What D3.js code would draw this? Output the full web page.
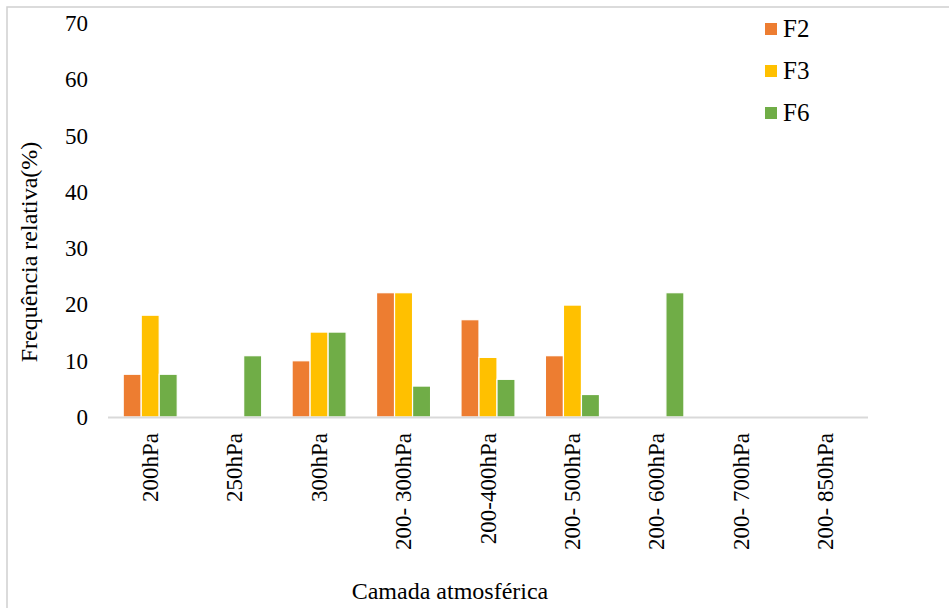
<!DOCTYPE html>
<html>
<head>
<meta charset="utf-8">
<script src="https://cdn.jsdelivr.net/npm/d3@7/dist/d3.min.js"></script>
<style>
  html, body { margin: 0; padding: 0; background: #fff; }
  svg { display: block; }
  text { font-family: "Liberation Serif", "Times New Roman", serif; fill: #000; }
</style>
</head>
<body>
<svg id="chart" width="949" height="608"></svg>
<script>
const categories = ["200hPa", "250hPa", "300hPa", "200- 300hPa", "200-400hPa", "200- 500hPa", "200- 600hPa", "200- 700hPa", "200- 850hPa"];
const seriesNames = ["F2", "F3", "F6"];
const F2 = [7.6, 0, 10.0, 22.1, 17.3, 10.9, 0, 0, 0];
const F3 = [18.1, 0, 15.1, 22.1, 10.6, 19.9, 0, 0, 0];
const F6 = [7.6, 10.9, 15.1, 5.5, 6.7, 4.0, 22.1, 0, 0];
const yTicks = [0, 10, 20, 30, 40, 50, 60, 70];
const colors = ["#ED7D31", "#FFC000", "#70AD47"];

const seriesValues = [F2, F3, F6];
const svg = d3.select("#chart");

// frame
svg.append("rect").attr("x", 7).attr("y", 7).attr("width", 1000).attr("height", 1000)
  .attr("fill", "none").attr("stroke", "#d0d0d0").attr("stroke-width", 1.5);

const plotLeft = 108, plotRight = 868, plotTop = 23.3, plotBottom = 417;

const x = d3.scaleBand().domain(categories).range([plotLeft, plotRight]).paddingInner(0.36).paddingOuter(0.18);
const xs = d3.scaleBand().domain(seriesNames).range([0, x.bandwidth()]);
const y = d3.scaleLinear().domain([0, 70]).range([plotBottom, plotTop]);

// bars
categories.forEach((c, i) => {
  seriesNames.forEach((s, j) => {
    const v = seriesValues[j][i];
    if (v <= 0) return;
    svg.append("rect")
      .attr("x", x(c) + xs(s))
      .attr("y", y(v))
      .attr("width", xs.bandwidth())
      .attr("height", y(0) - y(v))
      .attr("fill", colors[j])
      .attr("stroke", "#fff")
      .attr("stroke-width", 1.2);
  });
});

// x axis line
svg.append("line").attr("x1", plotLeft).attr("x2", plotRight).attr("y1", y(0) + 0.5).attr("y2", y(0) + 0.5)
  .attr("stroke", "#d9d9d9").attr("stroke-width", 2);

// y axis ticks (labels only)
const yAxis = d3.axisLeft(y).tickValues(yTicks).tickSize(0).tickPadding(0);
const gy = svg.append("g").attr("transform", `translate(88,0)`).call(yAxis);
gy.select(".domain").remove();
gy.selectAll("text").attr("font-size", 23).attr("font-family", "Liberation Serif").attr("fill", "#000");

// x axis labels
const xAxis = d3.axisBottom(x).tickSize(0).tickPadding(0);
const gx = svg.append("g").attr("transform", `translate(0,${y(0)})`).call(xAxis);
gx.select(".domain").remove();
gx.selectAll("text")
  .attr("font-size", 23).attr("font-family", "Liberation Serif").attr("fill", "#000")
  .attr("text-anchor", "end")
  .attr("transform", "rotate(-90)")
  .attr("x", -16).attr("y", 0).attr("dy", "0.33em");

// axis titles
svg.append("text").attr("x", 450).attr("y", 599).attr("text-anchor", "middle")
  .attr("font-size", 24).text("Camada atmosférica");
svg.append("text").attr("transform", "translate(37,252) rotate(-90)").attr("text-anchor", "middle")
  .attr("font-size", 24).text("Frequência relativa(%)");

// legend
seriesNames.forEach((s, j) => {
  const ly = 29 + j * 42;
  svg.append("rect").attr("x", 765).attr("y", ly - 6).attr("width", 12).attr("height", 12).attr("fill", colors[j]);
  svg.append("text").attr("x", 783).attr("y", ly + 8).attr("font-size", 25).text(s);
});
</script>
</body>
</html>
